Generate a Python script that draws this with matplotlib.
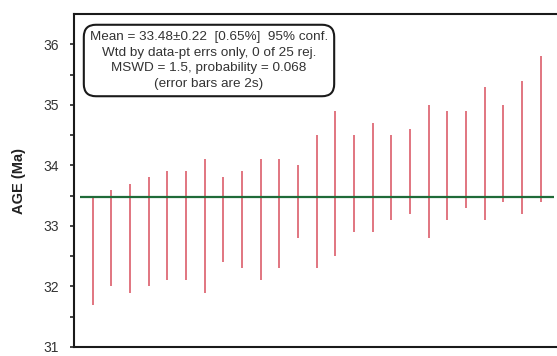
import matplotlib
matplotlib.use("Agg")
import matplotlib.pyplot as plt
import numpy as np

# Individual ages (Ma) and their 2-sigma errors, ordered by age
ages = [32.6, 32.8, 32.8, 32.9, 33.0, 33.0, 33.0, 33.1, 33.1, 33.1,
        33.2, 33.4, 33.4, 33.7, 33.7, 33.8, 33.8, 33.9, 33.9, 34.0,
        34.1, 34.2, 34.2, 34.3, 34.6]
errs_2s = [0.9, 0.8, 0.9, 0.9, 0.9, 0.9, 1.1, 0.7, 0.8, 1.0,
           0.9, 0.6, 1.1, 1.2, 0.8, 0.9, 0.7, 0.7, 1.1, 0.9,
           0.8, 1.1, 0.8, 1.1, 1.2]
weighted_mean = 33.48

y_ticks = [31, 32, 33, 34, 35, 36]
stats_lines = [
    "Mean = 33.48\u00b10.22  [0.65%]  95% conf.",
    "Wtd by data-pt errs only, 0 of 25 rej.",
    "MSWD = 1.5, probability = 0.068",
    "(error bars are 2s)",
]

plt.rcParams['font.family'] = ['Liberation Sans', 'DejaVu Sans']

fig = plt.figure(figsize=(5.57, 3.56), dpi=100)
ax = fig.add_axes([74 / 557, 1 - 347 / 356, (559.4 - 74) / 557, (347 - 14) / 356])

x = np.arange(1, len(ages) + 1)
a = np.array(ages)
e = np.array(errs_2s)
ax.vlines(x, a - e, a + e, color='#d8505e', lw=1.1, zorder=2)
ax.hlines(weighted_mean, 0.3, len(ages) + 0.7, color='#1f6b38', lw=1.6, zorder=3)

ax.set_xlim(0, 26)
ax.set_ylim(31, 36.5)
ax.set_yticks(y_ticks)
ax.set_yticks(np.arange(31.5, 36.5, 1.0), minor=True)
ax.set_xticks([])
ax.tick_params(axis='y', which='both', direction='out', length=3, width=1.2,
               colors='#222222', labelsize=10, pad=8)
ax.tick_params(axis='y', labelcolor='#333333')

for side in ['left', 'top', 'bottom']:
    ax.spines[side].set_linewidth(1.5)
    ax.spines[side].set_color('#1a1a1a')
ax.spines['right'].set_visible(False)

ax.set_ylabel("AGE (Ma)", fontsize=10.5, fontweight='bold', color='#222222', labelpad=12)

# Weighted-mean statistics box
fig.text(209 / 557, 1 - 60.5 / 356, "\n".join(stats_lines), ha='center', va='center',
         fontsize=9.7, color='#333333', linespacing=1.42,
         bbox=dict(boxstyle='round,pad=0.45,rounding_size=0.9', fc='white',
                   ec='#1a1a1a', lw=1.5))

fig.savefig("out.png", dpi=100)
